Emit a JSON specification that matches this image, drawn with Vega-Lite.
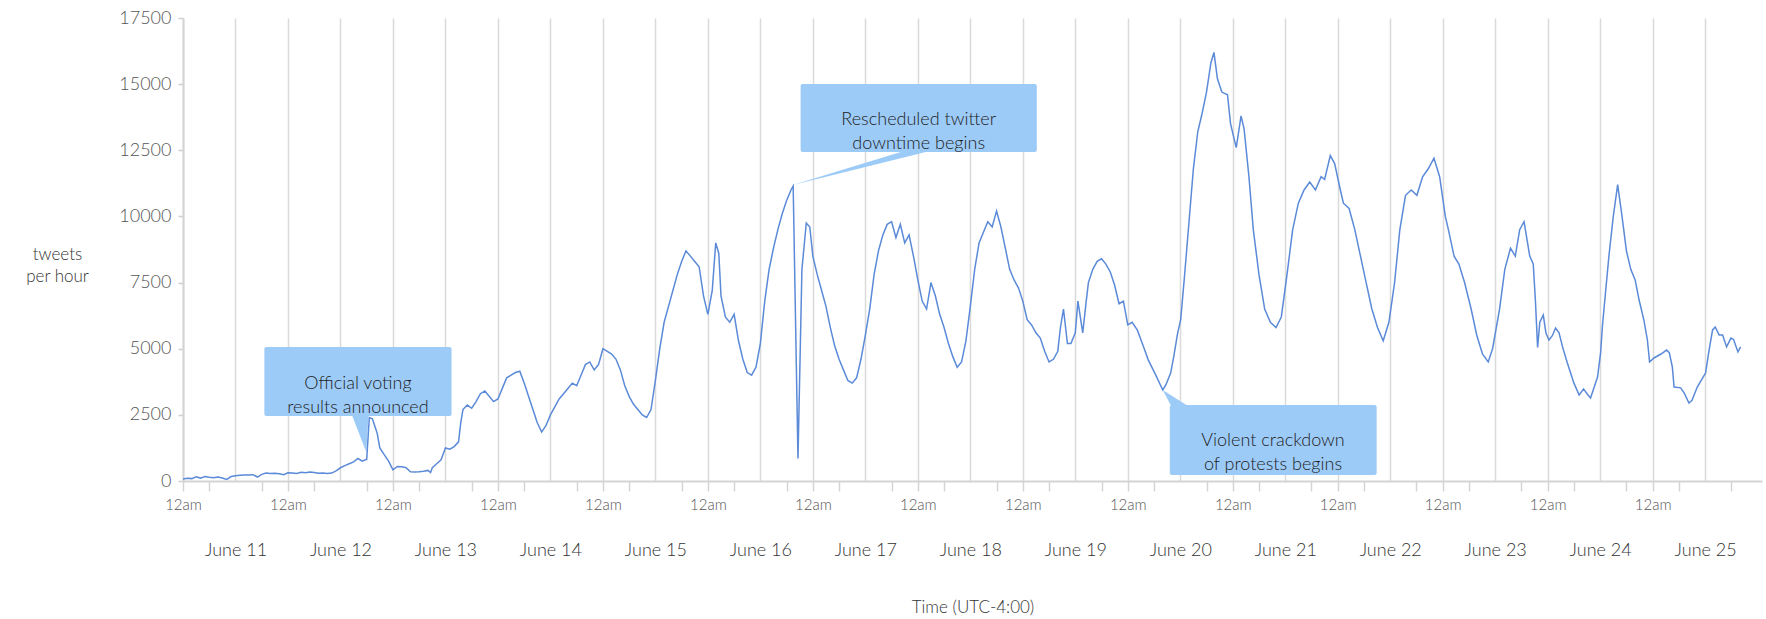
{
"$schema":"https://vega.github.io/schema/vega-lite/v6.json",
"autosize":{"type":"none"},
"padding":{"left":183,"top":18,"right":4,"bottom":138},
"width":1579,"height":463,
"background":"white",
"config":{"view":{"stroke":null},"font":"Lato","axis":{"labelFont":"Lato","titleFont":"Lato","labelFontWeight":300}},
"datasets":{
"series":[
{"t":"2009-06-11T00:00Z","v":80},{"t":"2009-06-11T01:00Z","v":100},{"t":"2009-06-11T02:00Z","v":90},{"t":"2009-06-11T03:00Z","v":160},{"t":"2009-06-11T04:00Z","v":110},{"t":"2009-06-11T05:00Z","v":170},{"t":"2009-06-11T06:00Z","v":140},{"t":"2009-06-11T07:00Z","v":120},{"t":"2009-06-11T08:00Z","v":150},{"t":"2009-06-11T09:00Z","v":110},{"t":"2009-06-11T10:00Z","v":60},{"t":"2009-06-11T11:00Z","v":170},{"t":"2009-06-11T12:00Z","v":200},{"t":"2009-06-11T13:00Z","v":220},{"t":"2009-06-11T14:00Z","v":230},{"t":"2009-06-11T15:00Z","v":230},{"t":"2009-06-11T16:00Z","v":240},{"t":"2009-06-11T17:00Z","v":150},{"t":"2009-06-11T18:00Z","v":250},{"t":"2009-06-11T19:00Z","v":300},{"t":"2009-06-11T20:00Z","v":280},{"t":"2009-06-11T21:00Z","v":290},{"t":"2009-06-11T22:00Z","v":270},{"t":"2009-06-11T23:00Z","v":240},
{"t":"2009-06-12T00:00Z","v":310},{"t":"2009-06-12T01:00Z","v":300},{"t":"2009-06-12T02:00Z","v":280},{"t":"2009-06-12T03:00Z","v":330},{"t":"2009-06-12T04:00Z","v":310},{"t":"2009-06-12T05:00Z","v":340},{"t":"2009-06-12T06:00Z","v":320},{"t":"2009-06-12T07:00Z","v":290},{"t":"2009-06-12T08:00Z","v":300},{"t":"2009-06-12T09:00Z","v":280},{"t":"2009-06-12T10:00Z","v":300},{"t":"2009-06-12T11:00Z","v":380},{"t":"2009-06-12T12:00Z","v":500},{"t":"2009-06-12T13:00Z","v":580},{"t":"2009-06-12T14:00Z","v":650},{"t":"2009-06-12T15:00Z","v":720},{"t":"2009-06-12T16:00Z","v":850},{"t":"2009-06-12T17:00Z","v":750},{"t":"2009-06-12T18:00Z","v":820},{"t":"2009-06-12T18:36Z","v":2400},{"t":"2009-06-12T19:18Z","v":2350},{"t":"2009-06-12T20:00Z","v":2000},{"t":"2009-06-12T20:24Z","v":1800},{"t":"2009-06-12T21:00Z","v":1250},{"t":"2009-06-12T22:00Z","v":1000},{"t":"2009-06-12T23:00Z","v":750},
{"t":"2009-06-13T00:00Z","v":420},{"t":"2009-06-13T01:00Z","v":550},{"t":"2009-06-13T02:00Z","v":540},{"t":"2009-06-13T03:00Z","v":500},{"t":"2009-06-13T04:00Z","v":350},{"t":"2009-06-13T05:00Z","v":340},{"t":"2009-06-13T06:00Z","v":350},{"t":"2009-06-13T07:00Z","v":370},{"t":"2009-06-13T08:00Z","v":400},{"t":"2009-06-13T08:36Z","v":320},{"t":"2009-06-13T09:00Z","v":500},{"t":"2009-06-13T10:00Z","v":650},{"t":"2009-06-13T11:00Z","v":800},{"t":"2009-06-13T12:00Z","v":1250},{"t":"2009-06-13T13:00Z","v":1200},{"t":"2009-06-13T14:00Z","v":1300},{"t":"2009-06-13T15:00Z","v":1480},{"t":"2009-06-13T15:30Z","v":2200},{"t":"2009-06-13T16:00Z","v":2700},{"t":"2009-06-13T17:00Z","v":2870},{"t":"2009-06-13T18:00Z","v":2750},{"t":"2009-06-13T19:00Z","v":3000},{"t":"2009-06-13T20:00Z","v":3300},{"t":"2009-06-13T21:00Z","v":3400},{"t":"2009-06-13T22:00Z","v":3200},{"t":"2009-06-13T23:00Z","v":3000},
{"t":"2009-06-14T00:00Z","v":3100},{"t":"2009-06-14T01:00Z","v":3500},{"t":"2009-06-14T02:00Z","v":3900},{"t":"2009-06-14T03:00Z","v":4000},{"t":"2009-06-14T04:00Z","v":4100},{"t":"2009-06-14T05:00Z","v":4150},{"t":"2009-06-14T06:00Z","v":3700},{"t":"2009-06-14T07:00Z","v":3200},{"t":"2009-06-14T08:00Z","v":2700},{"t":"2009-06-14T09:00Z","v":2200},{"t":"2009-06-14T10:00Z","v":1850},{"t":"2009-06-14T11:00Z","v":2100},{"t":"2009-06-14T12:00Z","v":2500},{"t":"2009-06-14T13:00Z","v":2800},{"t":"2009-06-14T14:00Z","v":3100},{"t":"2009-06-14T15:00Z","v":3300},{"t":"2009-06-14T16:00Z","v":3500},{"t":"2009-06-14T17:00Z","v":3700},{"t":"2009-06-14T18:00Z","v":3600},{"t":"2009-06-14T19:00Z","v":4000},{"t":"2009-06-14T20:00Z","v":4400},{"t":"2009-06-14T21:00Z","v":4500},{"t":"2009-06-14T22:00Z","v":4200},{"t":"2009-06-14T23:00Z","v":4400},
{"t":"2009-06-15T00:00Z","v":5000},{"t":"2009-06-15T01:00Z","v":4900},{"t":"2009-06-15T02:00Z","v":4800},{"t":"2009-06-15T03:00Z","v":4600},{"t":"2009-06-15T04:00Z","v":4200},{"t":"2009-06-15T05:00Z","v":3600},{"t":"2009-06-15T06:00Z","v":3200},{"t":"2009-06-15T07:00Z","v":2900},{"t":"2009-06-15T08:00Z","v":2700},{"t":"2009-06-15T09:00Z","v":2500},{"t":"2009-06-15T10:00Z","v":2400},{"t":"2009-06-15T11:00Z","v":2700},{"t":"2009-06-15T12:00Z","v":3800},{"t":"2009-06-15T13:00Z","v":5000},{"t":"2009-06-15T14:00Z","v":6000},{"t":"2009-06-15T15:00Z","v":6600},{"t":"2009-06-15T16:00Z","v":7200},{"t":"2009-06-15T17:00Z","v":7800},{"t":"2009-06-15T18:00Z","v":8300},{"t":"2009-06-15T19:00Z","v":8700},{"t":"2009-06-15T20:00Z","v":8500},{"t":"2009-06-15T21:00Z","v":8300},{"t":"2009-06-15T22:00Z","v":8100},{"t":"2009-06-15T23:00Z","v":7000},
{"t":"2009-06-16T00:00Z","v":6300},{"t":"2009-06-16T01:00Z","v":7200},{"t":"2009-06-16T01:48Z","v":9000},{"t":"2009-06-16T02:30Z","v":8600},{"t":"2009-06-16T03:00Z","v":7000},{"t":"2009-06-16T04:00Z","v":6200},{"t":"2009-06-16T05:00Z","v":6000},{"t":"2009-06-16T06:00Z","v":6300},{"t":"2009-06-16T07:00Z","v":5300},{"t":"2009-06-16T08:00Z","v":4600},{"t":"2009-06-16T09:00Z","v":4100},{"t":"2009-06-16T10:00Z","v":4000},{"t":"2009-06-16T11:00Z","v":4300},{"t":"2009-06-16T12:00Z","v":5200},{"t":"2009-06-16T13:00Z","v":6800},{"t":"2009-06-16T14:00Z","v":8000},{"t":"2009-06-16T15:00Z","v":8800},{"t":"2009-06-16T16:00Z","v":9500},{"t":"2009-06-16T17:00Z","v":10100},{"t":"2009-06-16T18:00Z","v":10600},{"t":"2009-06-16T19:00Z","v":11000},{"t":"2009-06-16T19:30Z","v":11150},{"t":"2009-06-16T20:36Z","v":850},{"t":"2009-06-16T21:30Z","v":8000},{"t":"2009-06-16T22:30Z","v":9750},{"t":"2009-06-16T23:18Z","v":9600},
{"t":"2009-06-17T00:00Z","v":8500},{"t":"2009-06-17T01:00Z","v":7800},{"t":"2009-06-17T02:00Z","v":7200},{"t":"2009-06-17T03:00Z","v":6600},{"t":"2009-06-17T04:00Z","v":5800},{"t":"2009-06-17T05:00Z","v":5100},{"t":"2009-06-17T06:00Z","v":4600},{"t":"2009-06-17T07:00Z","v":4200},{"t":"2009-06-17T08:00Z","v":3800},{"t":"2009-06-17T09:00Z","v":3700},{"t":"2009-06-17T10:00Z","v":3900},{"t":"2009-06-17T11:00Z","v":4600},{"t":"2009-06-17T12:00Z","v":5500},{"t":"2009-06-17T13:00Z","v":6500},{"t":"2009-06-17T14:00Z","v":7800},{"t":"2009-06-17T15:00Z","v":8700},{"t":"2009-06-17T16:00Z","v":9300},{"t":"2009-06-17T17:00Z","v":9700},{"t":"2009-06-17T18:00Z","v":9800},{"t":"2009-06-17T19:00Z","v":9200},{"t":"2009-06-17T20:00Z","v":9700},{"t":"2009-06-17T21:00Z","v":9000},{"t":"2009-06-17T22:00Z","v":9300},{"t":"2009-06-17T23:00Z","v":8500},
{"t":"2009-06-18T00:00Z","v":7600},{"t":"2009-06-18T01:00Z","v":6800},{"t":"2009-06-18T02:00Z","v":6500},{"t":"2009-06-18T03:00Z","v":7500},{"t":"2009-06-18T04:00Z","v":7000},{"t":"2009-06-18T05:00Z","v":6300},{"t":"2009-06-18T06:00Z","v":5800},{"t":"2009-06-18T07:00Z","v":5200},{"t":"2009-06-18T08:00Z","v":4700},{"t":"2009-06-18T09:00Z","v":4300},{"t":"2009-06-18T10:00Z","v":4500},{"t":"2009-06-18T11:00Z","v":5300},{"t":"2009-06-18T12:00Z","v":6600},{"t":"2009-06-18T13:00Z","v":8000},{"t":"2009-06-18T14:00Z","v":9000},{"t":"2009-06-18T15:00Z","v":9400},{"t":"2009-06-18T16:00Z","v":9800},{"t":"2009-06-18T17:00Z","v":9600},{"t":"2009-06-18T18:00Z","v":10200},{"t":"2009-06-18T19:00Z","v":9600},{"t":"2009-06-18T20:00Z","v":8800},{"t":"2009-06-18T21:00Z","v":8000},{"t":"2009-06-18T22:00Z","v":7600},{"t":"2009-06-18T23:00Z","v":7300},
{"t":"2009-06-19T00:00Z","v":6800},{"t":"2009-06-19T01:00Z","v":6100},{"t":"2009-06-19T02:00Z","v":5900},{"t":"2009-06-19T03:00Z","v":5600},{"t":"2009-06-19T04:00Z","v":5400},{"t":"2009-06-19T05:00Z","v":4900},{"t":"2009-06-19T06:00Z","v":4500},{"t":"2009-06-19T07:00Z","v":4600},{"t":"2009-06-19T08:00Z","v":4900},{"t":"2009-06-19T08:36Z","v":5800},{"t":"2009-06-19T09:18Z","v":6500},{"t":"2009-06-19T10:12Z","v":5200},{"t":"2009-06-19T11:00Z","v":5200},{"t":"2009-06-19T12:00Z","v":5600},{"t":"2009-06-19T12:36Z","v":6800},{"t":"2009-06-19T13:42Z","v":5600},{"t":"2009-06-19T14:30Z","v":6800},{"t":"2009-06-19T15:00Z","v":7500},{"t":"2009-06-19T16:00Z","v":8000},{"t":"2009-06-19T17:00Z","v":8300},{"t":"2009-06-19T18:00Z","v":8400},{"t":"2009-06-19T19:00Z","v":8200},{"t":"2009-06-19T20:00Z","v":7900},{"t":"2009-06-19T21:00Z","v":7400},{"t":"2009-06-19T22:00Z","v":6700},{"t":"2009-06-19T23:00Z","v":6800},
{"t":"2009-06-20T00:00Z","v":5900},{"t":"2009-06-20T01:00Z","v":6000},{"t":"2009-06-20T02:12Z","v":5700},{"t":"2009-06-20T03:36Z","v":5070},{"t":"2009-06-20T04:42Z","v":4570},{"t":"2009-06-20T06:24Z","v":4000},{"t":"2009-06-20T08:00Z","v":3440},{"t":"2009-06-20T08:42Z","v":3630},{"t":"2009-06-20T09:48Z","v":4080},{"t":"2009-06-20T10:30Z","v":4690},{"t":"2009-06-20T11:24Z","v":5590},{"t":"2009-06-20T12:06Z","v":6100},{"t":"2009-06-20T13:00Z","v":7800},{"t":"2009-06-20T14:00Z","v":9800},{"t":"2009-06-20T15:00Z","v":11800},{"t":"2009-06-20T16:00Z","v":13200},{"t":"2009-06-20T17:00Z","v":13900},{"t":"2009-06-20T18:00Z","v":14700},{"t":"2009-06-20T19:00Z","v":15800},{"t":"2009-06-20T19:42Z","v":16200},{"t":"2009-06-20T20:30Z","v":15200},{"t":"2009-06-20T21:30Z","v":14700},{"t":"2009-06-20T22:48Z","v":14600},{"t":"2009-06-20T23:30Z","v":13500},
{"t":"2009-06-21T00:48Z","v":12600},{"t":"2009-06-21T01:54Z","v":13800},{"t":"2009-06-21T02:36Z","v":13300},{"t":"2009-06-21T03:42Z","v":11500},{"t":"2009-06-21T04:42Z","v":9500},{"t":"2009-06-21T06:00Z","v":7800},{"t":"2009-06-21T07:18Z","v":6500},{"t":"2009-06-21T08:36Z","v":6000},{"t":"2009-06-21T09:54Z","v":5800},{"t":"2009-06-21T11:06Z","v":6200},{"t":"2009-06-21T12:24Z","v":7800},{"t":"2009-06-21T13:42Z","v":9500},{"t":"2009-06-21T15:00Z","v":10500},{"t":"2009-06-21T16:18Z","v":11000},{"t":"2009-06-21T17:36Z","v":11300},{"t":"2009-06-21T18:54Z","v":11000},{"t":"2009-06-21T20:12Z","v":11500},{"t":"2009-06-21T21:00Z","v":11400},{"t":"2009-06-21T22:18Z","v":12300},{"t":"2009-06-21T23:18Z","v":12000},
{"t":"2009-06-22T00:36Z","v":11000},{"t":"2009-06-22T01:18Z","v":10500},{"t":"2009-06-22T02:36Z","v":10300},{"t":"2009-06-22T03:54Z","v":9500},{"t":"2009-06-22T05:12Z","v":8500},{"t":"2009-06-22T06:30Z","v":7500},{"t":"2009-06-22T07:48Z","v":6500},{"t":"2009-06-22T09:06Z","v":5800},{"t":"2009-06-22T10:24Z","v":5300},{"t":"2009-06-22T11:42Z","v":6000},{"t":"2009-06-22T13:00Z","v":7500},{"t":"2009-06-22T14:12Z","v":9500},{"t":"2009-06-22T15:30Z","v":10800},{"t":"2009-06-22T16:48Z","v":11000},{"t":"2009-06-22T18:06Z","v":10800},{"t":"2009-06-22T19:24Z","v":11500},{"t":"2009-06-22T20:42Z","v":11800},{"t":"2009-06-22T22:00Z","v":12200},{"t":"2009-06-22T23:18Z","v":11500},
{"t":"2009-06-23T00:36Z","v":10000},{"t":"2009-06-23T01:18Z","v":9500},{"t":"2009-06-23T02:36Z","v":8500},{"t":"2009-06-23T03:42Z","v":8200},{"t":"2009-06-23T05:00Z","v":7500},{"t":"2009-06-23T06:30Z","v":6500},{"t":"2009-06-23T07:48Z","v":5500},{"t":"2009-06-23T09:06Z","v":4800},{"t":"2009-06-23T10:24Z","v":4500},{"t":"2009-06-23T11:24Z","v":5000},{"t":"2009-06-23T13:00Z","v":6500},{"t":"2009-06-23T14:12Z","v":8000},{"t":"2009-06-23T15:30Z","v":8800},{"t":"2009-06-23T16:36Z","v":8500},{"t":"2009-06-23T17:36Z","v":9500},{"t":"2009-06-23T18:36Z","v":9800},{"t":"2009-06-23T19:54Z","v":8500},{"t":"2009-06-23T20:42Z","v":8200},{"t":"2009-06-23T21:12Z","v":6800},{"t":"2009-06-23T21:42Z","v":5050},{"t":"2009-06-23T22:12Z","v":6000},{"t":"2009-06-23T23:00Z","v":6270},{"t":"2009-06-23T23:36Z","v":5590},
{"t":"2009-06-24T00:18Z","v":5330},{"t":"2009-06-24T01:06Z","v":5500},{"t":"2009-06-24T01:48Z","v":5780},{"t":"2009-06-24T02:36Z","v":5600},{"t":"2009-06-24T03:24Z","v":5070},{"t":"2009-06-24T04:30Z","v":4460},{"t":"2009-06-24T06:00Z","v":3700},{"t":"2009-06-24T07:12Z","v":3250},{"t":"2009-06-24T08:12Z","v":3480},{"t":"2009-06-24T09:00Z","v":3300},{"t":"2009-06-24T09:48Z","v":3140},{"t":"2009-06-24T11:24Z","v":3930},{"t":"2009-06-24T12:06Z","v":4840},{"t":"2009-06-24T12:30Z","v":5820},{"t":"2009-06-24T13:00Z","v":6730},{"t":"2009-06-24T14:00Z","v":8500},{"t":"2009-06-24T15:00Z","v":10000},{"t":"2009-06-24T16:00Z","v":11200},{"t":"2009-06-24T17:00Z","v":10000},{"t":"2009-06-24T18:00Z","v":8700},{"t":"2009-06-24T19:00Z","v":8000},{"t":"2009-06-24T20:00Z","v":7600},{"t":"2009-06-24T20:54Z","v":6840},{"t":"2009-06-24T22:00Z","v":6080},{"t":"2009-06-24T22:48Z","v":5330},{"t":"2009-06-24T23:18Z","v":4500},
{"t":"2009-06-25T00:18Z","v":4650},{"t":"2009-06-25T01:54Z","v":4800},{"t":"2009-06-25T03:12Z","v":4950},{"t":"2009-06-25T03:48Z","v":4850},{"t":"2009-06-25T04:30Z","v":4310},{"t":"2009-06-25T04:54Z","v":3550},{"t":"2009-06-25T06:24Z","v":3520},{"t":"2009-06-25T07:12Z","v":3330},{"t":"2009-06-25T08:18Z","v":2950},{"t":"2009-06-25T09:00Z","v":3050},{"t":"2009-06-25T10:12Z","v":3550},{"t":"2009-06-25T11:24Z","v":3890},{"t":"2009-06-25T12:06Z","v":4080},{"t":"2009-06-25T12:54Z","v":4950},{"t":"2009-06-25T13:42Z","v":5710},{"t":"2009-06-25T14:18Z","v":5820},{"t":"2009-06-25T15:12Z","v":5520},{"t":"2009-06-25T16:00Z","v":5520},{"t":"2009-06-25T16:54Z","v":5070},{"t":"2009-06-25T17:54Z","v":5400},{"t":"2009-06-25T18:30Z","v":5350},{"t":"2009-06-25T19:30Z","v":4880},{"t":"2009-06-25T20:06Z","v":5070}
],
"boxes":[
{"t1":"2009-06-11T18:36Z","t2":"2009-06-13T13:24Z","v1":2457,"v2":5065},
{"t1":"2009-06-16T21:12Z","t2":"2009-06-19T03:12Z","v1":12436,"v2":15007},
{"t1":"2009-06-20T09:36Z","t2":"2009-06-22T08:54Z","v1":227,"v2":2873}
],
"pointers":[
{"g":1,"t":"2009-06-12T14:42Z","v":2457,"v2":2457},{"g":1,"t":"2009-06-12T17:54Z","v":1096,"v2":2457},{"g":1,"t":"2009-06-12T18:24Z","v":2457,"v2":2457},
{"g":2,"t":"2009-06-16T19:24Z","v":11189,"v2":11189},{"g":2,"t":"2009-06-17T20:06Z","v":12436,"v2":12201},{"g":2,"t":"2009-06-18T01:48Z","v":12436,"v2":12436},
{"g":3,"t":"2009-06-20T08:00Z","v":3440,"v2":3440},{"g":3,"t":"2009-06-20T09:48Z","v":2873,"v2":3251},{"g":3,"t":"2009-06-20T13:24Z","v":2873,"v2":2873}
],
"labels":[
{"t":"2009-06-12T16:00Z","v":3667,"label":"Official voting\nresults announced"},
{"t":"2009-06-18T00:12Z","v":13646,"label":"Rescheduled twitter\ndowntime begins"},
{"t":"2009-06-21T09:12Z","v":1512,"label":"Violent crackdown\nof protests begins"}
]
},
"resolve":{"axis":{"x":"independent","y":"independent"}},
"layer":[
{"data":{"name":"boxes"},
 "mark":{"type":"rect","color":"#9dcbf7","cornerRadius":2},
 "encoding":{
  "x":{"field":"t1","type":"temporal","scale":{"type":"utc","domain":[1244678400000,1245978000000]},
   "axis":{"orient":"bottom","values":[1244678400000,1244721600000,1244764800000,1244808000000,1244851200000,1244894400000,1244937600000,1244980800000,1245024000000,1245067200000,1245110400000,1245153600000,1245196800000,1245240000000,1245283200000,1245326400000,1245369600000,1245412800000,1245456000000,1245499200000,1245542400000,1245585600000,1245628800000,1245672000000,1245715200000,1245758400000,1245801600000,1245844800000,1245888000000,1245931200000],
    "grid":true,"gridColor":"#dadada","gridWidth":1.5,"ticks":false,"labels":false,"domain":false,"title":null}},
  "x2":{"field":"t2"},
  "y":{"field":"v1","type":"quantitative","scale":{"domain":[0,17500],"nice":false},
   "axis":{"orient":"left","values":[0,2500,5000,7500,10000,12500,15000,17500],"format":"d","grid":false,
    "domain":true,"domainColor":"#d4d4d4","domainWidth":2,"ticks":true,"tickSize":5,"tickColor":"#cfcfcf","tickWidth":1.5,
    "labelFontSize":18,"labelColor":"#555555","labelPadding":7,
    "title":["tweets","per hour"],"titleAngle":0,"titleAlign":"center","titleBaseline":"middle","titleX":-126,"titleY":236,
    "titleFontSize":17,"titleFontWeight":300,"titleColor":"#333333","titleLineHeight":22}},
  "y2":{"field":"v2"}}},
{"data":{"name":"pointers"},
 "mark":{"type":"area","color":"#9dcbf7"},
 "encoding":{
  "x":{"field":"t","type":"temporal","scale":{"type":"utc"},
   "axis":{"orient":"bottom","values":[1244678400000,1244700000000,1244743200000,1244764800000,1244786400000,1244829600000,1244851200000,1244872800000,1244916000000,1244937600000,1244959200000,1245002400000,1245024000000,1245045600000,1245088800000,1245110400000,1245132000000,1245175200000,1245196800000,1245218400000,1245261600000,1245283200000,1245304800000,1245348000000,1245369600000,1245391200000,1245434400000,1245456000000,1245477600000,1245520800000,1245542400000,1245564000000,1245607200000,1245628800000,1245650400000,1245693600000,1245715200000,1245736800000,1245780000000,1245801600000,1245823200000,1245866400000,1245888000000,1245909600000,1245952800000],
    "grid":false,"ticks":true,"tickSize":10,"tickColor":"#d4d4d4","tickWidth":1.5,
    "domain":true,"domainColor":"#d4d4d4","domainWidth":2,
    "labelExpr":"utchours(datum.value) == 0 ? '12am' : ''","labelFontSize":15,"labelColor":"#555555","labelPadding":6,
    "labelFlush":false,"labelOverlap":false,"title":null}},
  "y":{"field":"v","type":"quantitative","axis":null},
  "y2":{"field":"v2"},
  "detail":{"field":"g"}}},
{"data":{"name":"series"},
 "mark":{"type":"line","color":"#5b8ad8","strokeWidth":1.5},
 "encoding":{
  "x":{"field":"t","type":"temporal","scale":{"type":"utc"},
   "axis":{"orient":"bottom","values":[1244721600000,1244808000000,1244894400000,1244980800000,1245067200000,1245153600000,1245240000000,1245326400000,1245412800000,1245499200000,1245585600000,1245672000000,1245758400000,1245844800000,1245931200000],
    "grid":false,"ticks":false,"tickSize":0,"domain":false,
    "labelExpr":"'June ' + utcdate(datum.value)","labelFontSize":18,"labelColor":"#333333","labelPadding":60,
    "labelFlush":false,"labelOverlap":false,
    "title":"Time (UTC-4:00)","titleFontSize":17,"titleFontWeight":300,"titleColor":"#333333","titleY":126,"titleBaseline":"middle"}},
  "y":{"field":"v","type":"quantitative","axis":null}}},
{"data":{"name":"labels"},
 "mark":{"type":"text","fontSize":18,"fontWeight":300,"color":"#1e1e1e","lineBreak":"\n","lineHeight":24,"align":"center","baseline":"middle"},
 "encoding":{
  "x":{"field":"t","type":"temporal","scale":{"type":"utc"},"axis":null},
  "y":{"field":"v","type":"quantitative","axis":null},
  "text":{"field":"label"}}}
]
}
